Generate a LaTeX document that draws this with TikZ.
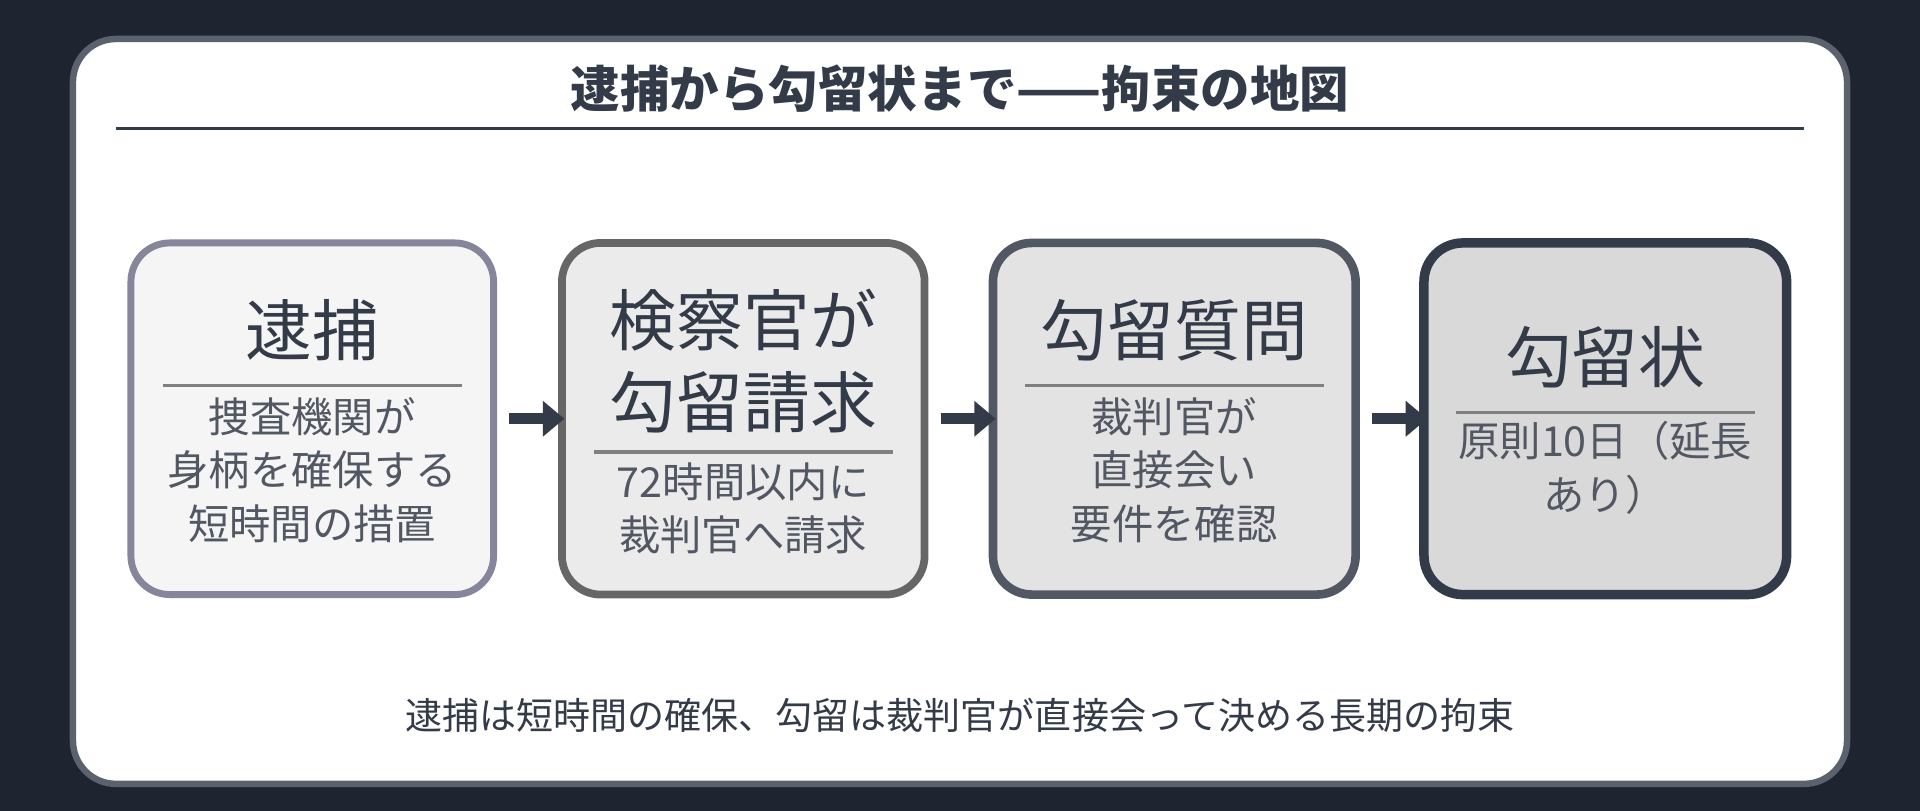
\documentclass[tikz,border=0pt]{standalone}
\usepackage{fontspec}
\setmainfont{Noto Sans CJK JP}
\usetikzlibrary{arrows.meta,positioning}
\definecolor{bgdark}{HTML}{1E2530}
\definecolor{ink}{HTML}{333B48}
\tikzset
{
    stepnode/.style = {rectangle, rounded corners=9pt, minimum width=2.96cm, minimum height=2.87cm},
    bigtext/.style  = {align=center, font=\fontsize{15.5}{19}\selectfont, text=ink},
    smalltext/.style = {align=center, font=\fontsize{9.6}{12.4}\selectfont, text=ink!85},
    steparrow/.style = {-{Triangle[length=5pt,width=8pt]}, line width=2.6pt, draw=ink}
}
\begin{document}
\begin{tikzpicture}[x=0.01cm,y=-0.01cm]
    \fill [bgdark] (0,0) rectangle (1568,662);
    \node [draw=ink!80, line width=1.5pt, fill=white, rounded corners=10pt, minimum width=14.48cm, minimum height=6.08cm] (card) at (784,336) {};
    \node [font=\fontsize{11.5}{14}\selectfont\bfseries, text=ink] (title) at (784,72) {逮捕から勾留状まで——拘束の地図};
    \draw [ink, line width=0.8pt] (95,105) -- (1473,105);
    % steps
    \node [stepnode, fill=black!4, draw=black!45!blue!20!gray!80, line width=1.6pt] (s1) at (255,342) {};
    \node [stepnode, fill=black!8, draw=gray!120, line width=1.8pt] (s2) at (607,342) {};
    \node [stepnode, fill=black!11, draw=ink!85, line width=2pt] (s3) at (959,342) {};
    \node [stepnode, fill=black!15, draw=ink, line width=2.2pt] (s4) at (1311,342) {};
    \node [bigtext] (b1) at (255,270) {逮捕};
    \draw [gray, line width=0.8pt] (133,315) -- (377,315);
    \node [smalltext] (t1) at (255,384) {捜査機関が\\身柄を確保する\\短時間の措置};
    \node [bigtext] (b2) at (607,295) {検察官が\\勾留請求};
    \draw [gray, line width=0.8pt] (485,369) -- (729,369);
    \node [smalltext] (t2) at (607,415) {72時間以内に\\裁判官へ請求};
    \node [bigtext] (b3) at (959,270) {勾留質問};
    \draw [gray, line width=0.8pt] (837,315) -- (1081,315);
    \node [smalltext] (t3) at (959,384) {裁判官が\\直接会い\\要件を確認};
    \node [bigtext] (b4) at (1311,292) {勾留状};
    \draw [gray, line width=0.8pt] (1189,337) -- (1433,337);
    \node [smalltext] (t4) at (1311,382) {原則10日（延長\\あり）};
    % arrows
    \draw [steparrow] (s1.east) ++(10,0) coordinate (a1) -- ++(45,0);
    \draw [steparrow] (s2.east) ++(10,0) coordinate (a2) -- ++(45,0);
    \draw [steparrow] (s3.east) ++(10,0) coordinate (a3) -- ++(45,0);
    \node [font=\fontsize{8.6}{11}\selectfont, text=ink] (foot) at (784,584) {逮捕は短時間の確保、勾留は裁判官が直接会って決める長期の拘束};
\end{tikzpicture}
\end{document}
